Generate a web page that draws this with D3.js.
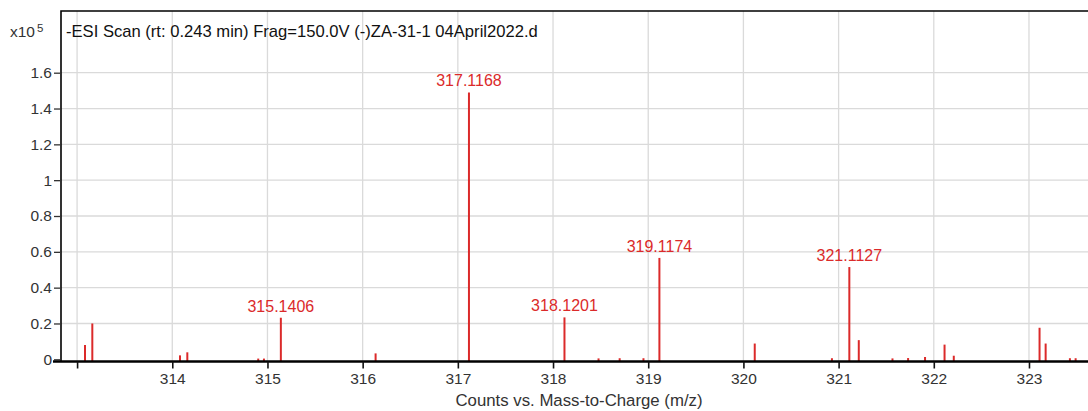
<!DOCTYPE html>
<html>
<head>
<meta charset="utf-8">
<script src="https://cdn.jsdelivr.net/npm/d3@7"></script>
<style>
  body { margin: 0; background: #fff; }
  svg text { font-family: "Liberation Sans", Arial, sans-serif; }
</style>
</head>
<body>
<div id="chart"></div>
<script>
// peak positions (m/z) and heights (x10^5 counts)
const peakMz = [313.083, 313.160, 314.081, 314.158, 314.903, 314.963, 315.1406, 316.136,
                317.1168, 318.1201, 318.478, 318.70, 318.95, 319.1174, 320.119, 320.93,
                321.1127, 321.212, 321.566, 321.73, 321.908, 322.113, 322.21,
                323.111, 323.175, 323.43, 323.49];
const peakCounts = [0.08, 0.20, 0.022, 0.039, 0.004, 0.004, 0.232, 0.033,
                    1.49, 0.234, 0.005, 0.006, 0.006, 0.566, 0.088, 0.006,
                    0.515, 0.107, 0.005, 0.007, 0.013, 0.082, 0.02,
                    0.176, 0.088, 0.006, 0.006];
const labelledPeaks = ["315.1406", "317.1168", "318.1201", "319.1174", "321.1127"];

const xTicks = [313, 314, 315, 316, 317, 318, 319, 320, 321, 322, 323];
const yTicks = [0, 0.2, 0.4, 0.6, 0.8, 1, 1.2, 1.4, 1.6];

const titleText = "-ESI Scan (rt: 0.243 min) Frag=150.0V (-)ZA-31-1 04April2022.d";
const xTitle = "Counts vs. Mass-to-Charge (m/z)";

const W = 1088, H = 411;
const margin = { top: 11, left: 61, right: 0, bottom: 50 };
const RED = "#db2a2a";

const svg = d3.select("#chart").append("svg")
    .attr("width", W).attr("height", H);

// scales
const xscale = d3.scaleLinear().domain([312.831, 323.62]).range([margin.left, W]);
const yscale = d3.scaleLinear().domain([0, 1.6]).range([359.3, 72.7]);

// grid
const grid = svg.append("g").attr("class", "grid");
grid.selectAll("line.v").data(xTicks).join("line")
    .attr("class", "v")
    .attr("x1", d => xscale(d)).attr("x2", d => xscale(d))
    .attr("y1", margin.top).attr("y2", 361)
    .attr("stroke", "#dadada").attr("stroke-width", 1.3);
grid.selectAll("line.h").data(yTicks.filter(d => d > 0)).join("line")
    .attr("class", "h")
    .attr("x1", margin.left).attr("x2", W)
    .attr("y1", d => yscale(d)).attr("y2", d => yscale(d))
    .attr("stroke", "#dadada").attr("stroke-width", 1.3);

// peaks
svg.append("g").selectAll("line").data(peakMz).join("line")
    .attr("x1", d => xscale(d)).attr("x2", d => xscale(d))
    .attr("y1", 361)
    .attr("y2", (d, i) => yscale(peakCounts[i]))
    .attr("stroke", RED).attr("stroke-width", 2);

// peak labels
svg.append("g").selectAll("text").data(labelledPeaks).join("text")
    .attr("x", d => xscale(+d))
    .attr("y", d => yscale(peakCounts[peakMz.indexOf(+d)]) - 6)
    .attr("text-anchor", "middle")
    .attr("font-size", 16)
    .attr("fill", RED)
    .text(d => d);

// frame (top + left)
svg.append("path")
    .attr("d", `M${margin.left},361V${margin.top}H${W}`)
    .attr("fill", "none").attr("stroke", "#000").attr("stroke-width", 1.6);

// y axis
const yaxis = d3.axisLeft(yscale).tickValues(yTicks).tickSize(7).tickPadding(2)
    .tickFormat(d => d3.format("~g")(d));
const gy = svg.append("g").attr("transform", `translate(${margin.left},0)`).call(yaxis);
gy.select(".domain").remove();
gy.selectAll(".tick line").attr("stroke", "#333").attr("stroke-width", 1.3);
gy.selectAll(".tick text").attr("font-size", 15.5).attr("fill", "#333")
    .attr("font-family", "Liberation Sans, Arial, sans-serif");

// x axis
const xaxis = d3.axisBottom(xscale).tickValues(xTicks).tickSize(7).tickPadding(4)
    .tickFormat(d => d === 313 ? "" : d);
const gx = svg.append("g").attr("transform", "translate(0,361.5)").call(xaxis);
gx.select(".domain").attr("d", `M53,0H${W}`).attr("stroke", "#000").attr("stroke-width", 2.4);
gx.selectAll(".tick line").attr("stroke", "#111").attr("stroke-width", 1.6);
gx.selectAll(".tick text").attr("font-size", 15.5).attr("fill", "#333")
    .attr("font-family", "Liberation Sans, Arial, sans-serif");

// x10^5 multiplier
const mult = svg.append("text").attr("x", 10).attr("y", 37).attr("font-size", 15.5).attr("fill", "#333");
mult.append("tspan").text("x10");
mult.append("tspan").attr("dx", 2).attr("dy", -5).attr("font-size", 11.5).text("5");

// title in the frame
svg.append("text").attr("x", 66).attr("y", 36.5)
    .attr("font-size", 16.6).attr("fill", "#111")
    .text(titleText);

// x axis title
svg.append("text").attr("x", 579).attr("y", 405.5)
    .attr("text-anchor", "middle")
    .attr("font-size", 16.8).attr("fill", "#333")
    .text(xTitle);
</script>
</body>
</html>
